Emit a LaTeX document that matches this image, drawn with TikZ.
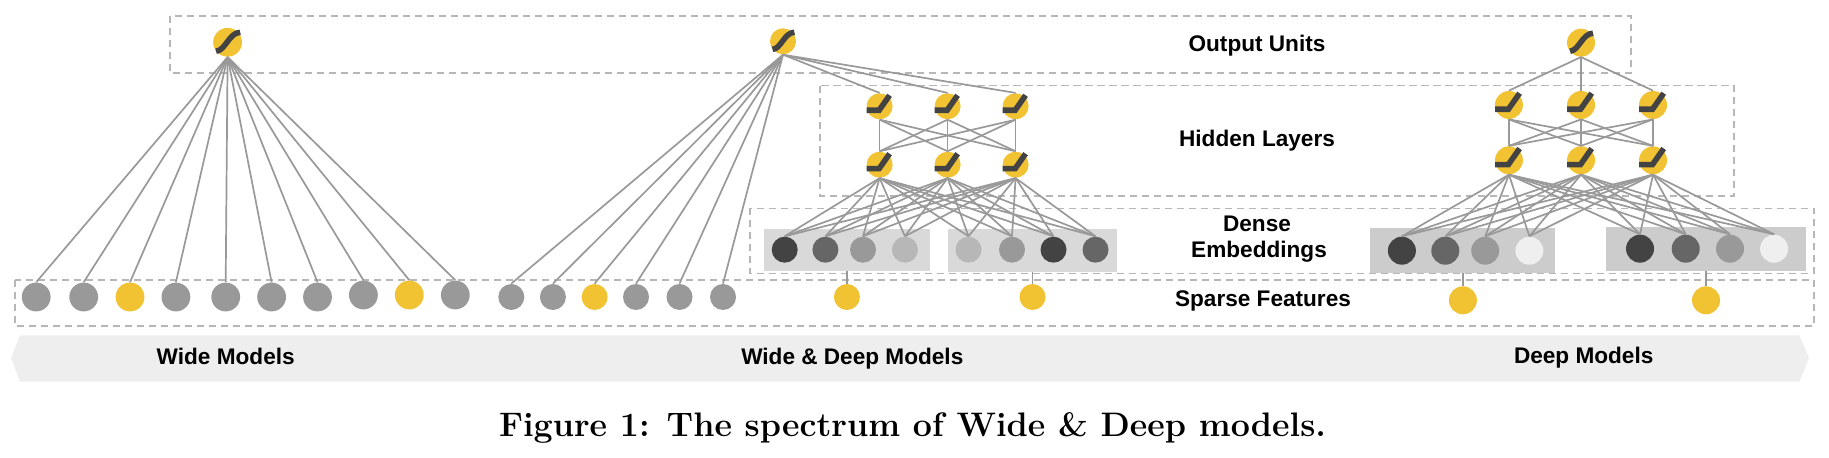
\documentclass[tikz,border=0pt]{standalone}
\usepackage{fontspec}
\setsansfont{Liberation Sans}
\definecolor{cdark}{HTML}{434343}
\definecolor{cmid}{HTML}{666666}
\definecolor{cgray}{HTML}{999999}
\definecolor{clight}{HTML}{B7B7B7}
\definecolor{cpale}{HTML}{EFEFEF}
\definecolor{cgold}{HTML}{F1C232}
\definecolor{cbandfill}{HTML}{EEEEEE}
\definecolor{cboxa}{HTML}{D9D9D9}
\definecolor{cboxb}{HTML}{CCCCCC}
\tikzset{
  unit/.style={circle,inner sep=0pt,draw=none,minimum size=14.4pt},
  unitm/.style={unit,minimum size=13pt},
  unitd/.style={unit,minimum size=14pt},
  layerbox/.style={draw=clight,line width=0.75pt,dash pattern=on 3.6pt off 2.4pt},
  edge/.style={draw=cgray,line width=0.85pt},
  glyph/.style={draw=cdark,line width=2.8pt,line cap=butt,line join=miter},
  embbox/.style={rectangle,inner sep=0pt,draw=none},
  lab/.style={font=\sffamily\bfseries\fontsize{11.3}{13}\selectfont,inner sep=0pt,text height=8.1pt,text depth=0pt,text=black},
  figcaption/.style={font=\bfseries\fontsize{17}{20}\selectfont,inner sep=0pt,text=black},
}
\newcommand{\relumark}[2]{\begin{scope}[shift={(#1.center)},scale=#2]
  \draw[glyph] (-13,4) -- (-0.5,4) -- (10,-11);
\end{scope}}
\newcommand{\sigmark}[2]{\begin{scope}[shift={(#1.center)},scale=#2]
  \draw[glyph] (-11,8.5) .. controls (-2,8) and (1,-9) .. (12,-9.5);
\end{scope}}
\begin{document}
\begin{tikzpicture}[x=0.5pt,y=-0.5pt]
\useasboundingbox (0,0) rectangle (1829,458);
% layer frames
\draw[layerbox] (170,16) rectangle (1631,73);
\draw[layerbox] (820,85.7) rectangle (1734,196);
\draw[layerbox] (750,208.3) rectangle (1814,273.3);
\draw[layerbox] (14.8,280) rectangle (1814,326);
% band
\fill[cbandfill] (11,358) -- (20,335.3) -- (1799.4,335.3) -- (1809,358) -- (1799.4,381.7) -- (20,381.7) -- cycle;
% embedding panels
\node[embbox,fill=cboxa,minimum width=83pt,minimum height=21pt] (pa) at (846.9,249.7) {};
\node[embbox,fill=cboxa,minimum width=84.5pt,minimum height=21.2pt] (pb) at (1032.5,250.5) {};
\node[embbox,fill=cboxb,minimum width=92.5pt,minimum height=22.2pt] (pc) at (1462.9,250.5) {};
\node[embbox,fill=cboxb,minimum width=100pt,minimum height=22pt] (pd) at (1706,249) {};
% wide model
\node[unit,fill=cgold] (wo) at (227.6,42.3) {};
\foreach \n/\x/\y/\c in {1/36.2/297/cgray,2/83.7/297/cgray,3/130/297/cgold,4/175.9/297/cgray,5/225.7/297/cgray,6/271.6/297/cgray,7/317.5/297/cgray,8/363.4/295/cgray,9/409.3/295/cgold,10/455.3/295/cgray}
  \node[unit,fill=\c] (ws\n) at (\x,\y) {};
\foreach \n in {1,...,10} \draw[edge] (wo.south) -- (ws\n.north);
\sigmark{wo}{1.05}
% wide & deep model
\node[unitm,fill=cgold] (mo) at (783,41.3) {};
\foreach \n/\x/\c in {1/511.3/cgray,2/552.9/cgray,3/594.6/cgold,4/636/cgray,5/679.5/cgray,6/723/cgray}
  \node[unitm,fill=\c] (ms\n) at (\x,297) {};
\node[unitm,fill=cgold] (mf1) at (846.9,297) {};
\node[unitm,fill=cgold] (mf2) at (1032.5,297) {};
\foreach \n/\x in {1/879.6,2/947.6,3/1015.6} {
  \node[unitm,fill=cgold] (mh\n) at (\x,106.3) {};
  \node[unitm,fill=cgold] (mg\n) at (\x,164.7) {};
}
\foreach \n/\x/\c in {1/784.7/cdark,2/825.4/cmid,3/863/cgray,4/904.9/clight,5/968.5/clight,6/1012/cgray,7/1053.5/cdark,8/1095.5/cmid}
  \node[unitm,fill=\c] (me\n) at (\x,249.7) {};
\foreach \n in {1,...,6} \draw[edge] (mo.south) -- (ms\n.north);
\foreach \a in {1,2,3} {
  \draw[edge] (mo.south) -- (mh\a.north);
  \foreach \b in {1,2,3} \draw[edge] (mh\a.south) -- (mg\b.north);
  \foreach \b in {1,...,8} \draw[edge] (mg\a.south) -- (me\b.north);
}
\draw[edge] (pa.south) -- (mf1.north);
\draw[edge] (pb.south) -- (mf2.north);
\sigmark{mo}{0.95}
\foreach \a in {1,2,3} { \relumark{mh\a}{1} \relumark{mg\a}{1} }
% deep model
\node[unitd,fill=cgold] (do) at (1581,42.7) {};
\foreach \n/\x in {1/1508.9,2/1581,3/1653} {
  \node[unitd,fill=cgold] (dh\n) at (\x,105) {};
  \node[unitd,fill=cgold] (dg\n) at (\x,160.3) {};
}
\foreach \n/\x/\y/\c in {1/1401.9/250.7/cdark,2/1445.3/250.7/cmid,3/1485.2/250.7/cgray,4/1529.4/250.7/cpale,5/1640/248.7/cdark,6/1685.7/248.7/cmid,7/1730/248.7/cgray,8/1774.1/248.7/cpale}
  \node[unitd,fill=\c] (de\n) at (\x,\y) {};
\node[unitd,fill=cgold] (df1) at (1462.9,300.3) {};
\node[unitd,fill=cgold] (df2) at (1706,300.3) {};
\foreach \a in {1,2,3} {
  \draw[edge] (do.south) -- (dh\a.north);
  \foreach \b in {1,2,3} \draw[edge] (dh\a.south) -- (dg\b.north);
  \foreach \b in {1,...,8} \draw[edge] (dg\a.south) -- (de\b.north);
}
\draw[edge] (pc.south) -- (df1.north);
\draw[edge] (pd.south) -- (df2.north);
\sigmark{do}{1}
\foreach \a in {1,2,3} { \relumark{dh\a}{1.07} \relumark{dg\a}{1.07} }
% labels
\node[lab] (l1) at (1257,43.3) {Output Units};
\node[lab] (l2) at (1257,138.3) {Hidden Layers};
\node[lab] (l3a) at (1257,223.3) {Dense};
\node[lab] (l3b) at (1259,249.5) {Embeddings};
\node[lab] (l4) at (1263,298.3) {Sparse Features};
\node[lab] (l5) at (225.7,356.7) {Wide Models};
\node[lab] (l6) at (852.3,356.7) {Wide \& Deep Models};
\node[lab] (l7) at (1583.7,355) {Deep Models};
\node[figcaption] (c) at (912.5,428) {Figure 1: The spectrum of Wide \& Deep models.};
\end{tikzpicture}
\end{document}
